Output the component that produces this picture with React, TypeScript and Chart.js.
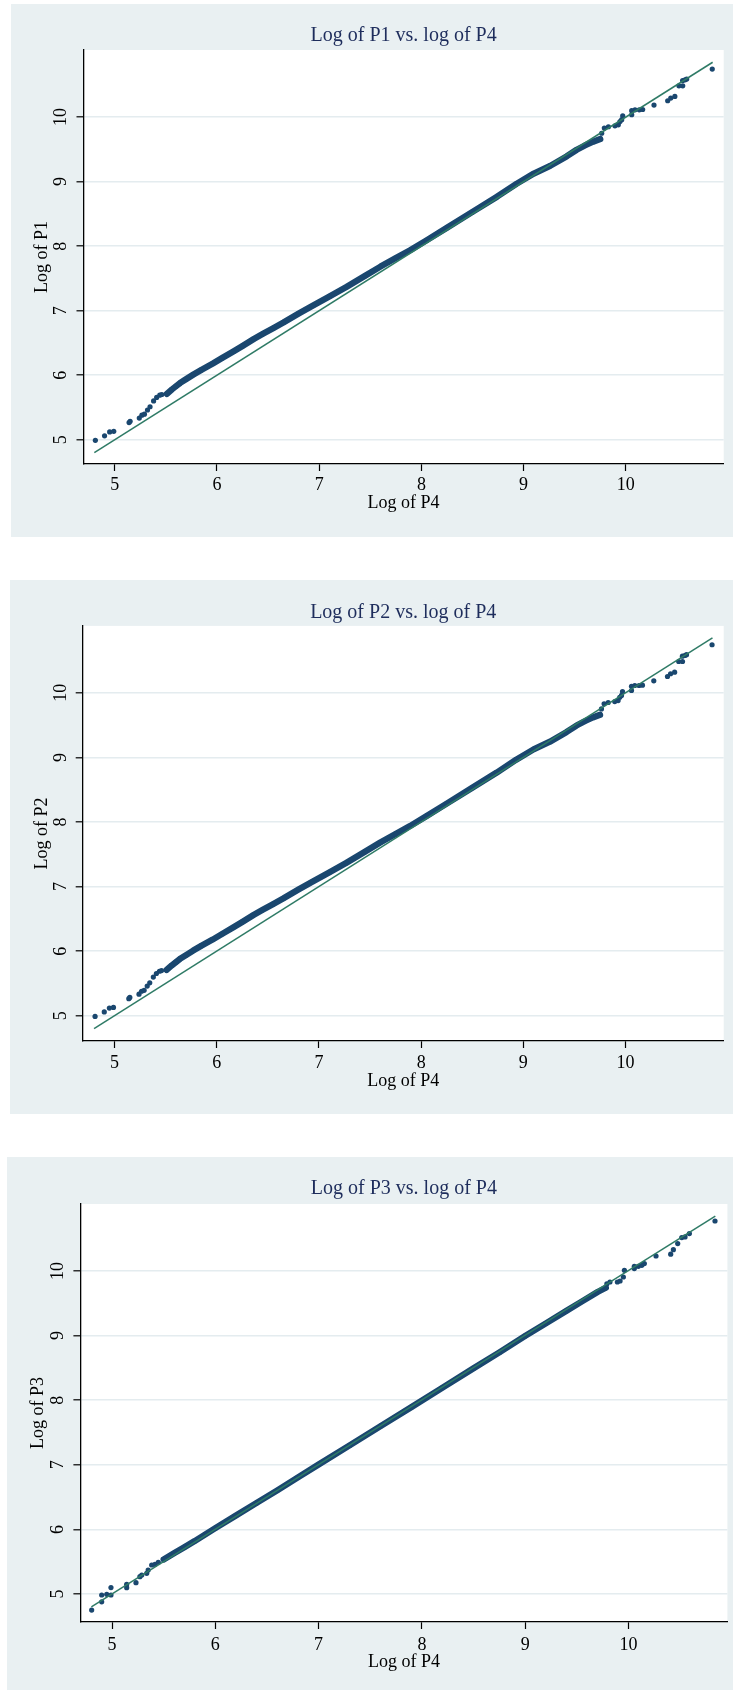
import React, { useEffect, useRef } from "react";
import { Chart, registerables } from "chart.js";

Chart.register(...registerables);

// ---------- shared axis ticks ----------
const xTicks = [5, 6, 7, 8, 9, 10];
const yTicks = [5, 6, 7, 8, 9, 10];

// ---------- panel 1: log P1 vs log P4 ----------
const p1LowX = [4.81, 4.90, 4.95, 4.99, 5.14, 5.15, 5.24, 5.265, 5.29, 5.32, 5.345, 5.38, 5.41, 5.44, 5.46];
const p1LowY = [4.99, 5.06, 5.12, 5.13, 5.265, 5.285, 5.335, 5.38, 5.395, 5.46, 5.51, 5.60, 5.655, 5.69, 5.70];
const p1BandX = [5.51, 5.56, 5.60, 5.64, 5.70, 5.77, 5.85, 5.96, 6.05, 6.16, 6.25, 6.36, 6.45, 6.55, 6.65, 6.80, 6.94, 7.10, 7.27, 7.45, 7.60, 7.75, 7.89, 8.05, 8.25, 8.50, 8.74, 8.93, 9.10, 9.26, 9.42, 9.52, 9.60, 9.68, 9.75];
const p1BandY = [5.71, 5.78, 5.83, 5.88, 5.94, 6.01, 6.085, 6.18, 6.265, 6.367, 6.453, 6.56, 6.64, 6.728, 6.815, 6.955, 7.08, 7.22, 7.37, 7.54, 7.683, 7.815, 7.937, 8.09, 8.285, 8.53, 8.766, 8.965, 9.125, 9.244, 9.39, 9.494, 9.56, 9.618, 9.66];
const p1HighX = [9.764, 9.79, 9.83, 9.894, 9.927, 9.943, 9.96, 9.97, 10.058, 10.058, 10.09, 10.132, 10.165, 10.276, 10.41, 10.44, 10.48, 10.52, 10.557, 10.556, 10.58, 10.596, 10.846];
const p1HighY = [9.75, 9.83, 9.85, 9.865, 9.88, 9.93, 9.96, 10.02, 10.036, 10.10, 10.113, 10.113, 10.118, 10.186, 10.253, 10.295, 10.32, 10.485, 10.485, 10.567, 10.578, 10.59, 10.744];
const p1RefX = [4.80, 10.85];
const p1RefY = [4.80, 10.85];

// ---------- panel 2: log P2 vs log P4 ----------
const p2LowX = [4.81, 4.90, 4.95, 4.99, 5.14, 5.15, 5.24, 5.265, 5.29, 5.32, 5.345, 5.38, 5.41, 5.44, 5.46];
const p2LowY = [4.99, 5.06, 5.12, 5.13, 5.265, 5.285, 5.335, 5.38, 5.395, 5.46, 5.51, 5.60, 5.655, 5.69, 5.70];
const p2BandX = [5.51, 5.56, 5.60, 5.64, 5.70, 5.77, 5.85, 5.96, 6.05, 6.16, 6.25, 6.36, 6.45, 6.55, 6.65, 6.80, 6.94, 7.10, 7.27, 7.45, 7.60, 7.75, 7.89, 8.05, 8.25, 8.50, 8.74, 8.93, 9.10, 9.26, 9.42, 9.52, 9.60, 9.68, 9.75];
const p2BandY = [5.71, 5.78, 5.83, 5.88, 5.94, 6.01, 6.085, 6.18, 6.265, 6.367, 6.453, 6.56, 6.64, 6.728, 6.815, 6.955, 7.08, 7.22, 7.37, 7.54, 7.683, 7.815, 7.937, 8.09, 8.285, 8.53, 8.766, 8.965, 9.125, 9.244, 9.39, 9.494, 9.56, 9.618, 9.66];
const p2HighX = [9.764, 9.79, 9.83, 9.894, 9.927, 9.943, 9.96, 9.97, 10.058, 10.058, 10.09, 10.132, 10.165, 10.276, 10.41, 10.44, 10.48, 10.52, 10.557, 10.556, 10.58, 10.596, 10.846];
const p2HighY = [9.75, 9.83, 9.85, 9.865, 9.88, 9.93, 9.96, 10.02, 10.036, 10.10, 10.113, 10.113, 10.118, 10.186, 10.253, 10.295, 10.32, 10.485, 10.485, 10.567, 10.578, 10.59, 10.744];
const p2RefX = [4.80, 10.85];
const p2RefY = [4.80, 10.85];

// ---------- panel 3: log P3 vs log P4 ----------
const p3LowX = [4.803, 4.90, 4.90, 4.949, 4.99, 4.99, 5.142, 5.142, 5.232, 5.27, 5.288, 5.336, 5.35, 5.384, 5.416, 5.448];
const p3LowY = [4.752, 4.88, 4.985, 4.995, 4.985, 5.10, 5.15, 5.098, 5.175, 5.268, 5.294, 5.32, 5.37, 5.449, 5.46, 5.49];
const p3BandX = [5.50, 5.60, 5.70, 5.80, 5.90, 6.00, 6.20, 6.40, 6.60, 6.80, 7.00, 7.30, 7.60, 7.90, 8.20, 8.50, 8.75, 9.00, 9.20, 9.40, 9.55, 9.70, 9.78];
const p3BandY = [5.535, 5.63, 5.725, 5.82, 5.92, 6.02, 6.215, 6.41, 6.605, 6.805, 7.005, 7.30, 7.60, 7.895, 8.195, 8.495, 8.74, 8.995, 9.19, 9.385, 9.53, 9.675, 9.74];
const p3HighX = [9.79, 9.82, 9.892, 9.918, 9.95, 9.96, 10.056, 10.056, 10.095, 10.128, 10.153, 10.266, 10.408, 10.434, 10.476, 10.515, 10.547, 10.589, 10.837];
const p3HighY = [9.80, 9.83, 9.83, 9.845, 9.907, 10.01, 10.037, 10.073, 10.073, 10.088, 10.115, 10.232, 10.26, 10.33, 10.424, 10.517, 10.527, 10.579, 10.774];
const p3RefX = [4.80, 10.84];
const p3RefY = [4.80, 10.85];

// ---------- styles ----------
const NAVY = "#1a476f";
const GREEN = "#2f7b66";
const BG = "#e9f0f2";
const GRID = "#e4ecef";
const TITLE_COLOR = "#1e2d5c";
const FONT = "'Liberation Serif', 'Times New Roman', serif";

type PanelSpec = {
  title: string;
  yTitle: string;
  xTitle: string;
  lowX: number[]; lowY: number[];
  bandX: number[]; bandY: number[];
  highX: number[]; highY: number[];
  refX: number[]; refY: number[];
  box: { left: number; top: number; width: number; height: number };
  area: { left: number; top: number; right: number; bottom: number };
  xRange: [number, number];
  yRange: [number, number];
  titleY: number; xTickY: number; xTitleY: number; yTickX: number; yTitleX: number;
};

const PANELS: PanelSpec[] = [
  {
    title: "Log of P1 vs. log of P4", yTitle: "Log of P1", xTitle: "Log of P4",
    lowX: p1LowX, lowY: p1LowY, bandX: p1BandX, bandY: p1BandY, highX: p1HighX, highY: p1HighY,
    refX: p1RefX, refY: p1RefY,
    box: { left: 11, top: 4, width: 722, height: 533 },
    area: { left: 83.5, top: 50, right: 723.7, bottom: 464 },
    xRange: [4.694, 10.958], yRange: [4.623, 11.04],
    titleY: 35.7, xTickY: 485.7, xTitleY: 503.6, yTickX: 61.7, yTitleX: 42,
  },
  {
    title: "Log of P2 vs. log of P4", yTitle: "Log of P2", xTitle: "Log of P4",
    lowX: p2LowX, lowY: p2LowY, bandX: p2BandX, bandY: p2BandY, highX: p2HighX, highY: p2HighY,
    refX: p2RefX, refY: p2RefY,
    box: { left: 10, top: 580, width: 723, height: 534 },
    area: { left: 82.7, top: 625.9, right: 723.7, bottom: 1041 },
    xRange: [4.689, 10.96], yRange: [4.61, 11.036],
    titleY: 612.9, xTickY: 1063, xTitleY: 1081.6, yTickX: 60.8, yTitleX: 42,
  },
  {
    title: "Log of P3 vs. log of P4", yTitle: "Log of P3", xTitle: "Log of P4",
    lowX: p3LowX, lowY: p3LowY, bandX: p3BandX, bandY: p3BandY, highX: p3HighX, highY: p3HighY,
    refX: p3RefX, refY: p3RefY,
    box: { left: 7, top: 1157, width: 726, height: 533 },
    area: { left: 80.4, top: 1204, right: 727.4, bottom: 1622 },
    xRange: [4.694, 10.957], yRange: [4.567, 11.037],
    titleY: 1189, xTickY: 1645, xTitleY: 1662, yTickX: 58.4, yTitleX: 38.3,
  },
];

const toPts = (xs: number[], ys: number[]) => xs.map((x, i) => ({ x, y: ys[i] }));

const plotBg = {
  id: "plotBg",
  beforeDraw(chart: any) {
    const { ctx, chartArea: a } = chart;
    ctx.save();
    ctx.fillStyle = "#ffffff";
    ctx.fillRect(a.left, a.top, a.right - a.left, a.bottom - a.top);
    ctx.restore();
  },
};

function Panel({ spec }: { spec: PanelSpec }) {
  const ref = useRef<HTMLCanvasElement | null>(null);
  useEffect(() => {
    if (!ref.current) return;
    const { box, area } = spec;
    const W = box.width, H = box.height;
    const caL = area.left - box.left;
    const caT = area.top - box.top;
    const caR = area.right - box.left;
    const caB = area.bottom - box.top;
    const titleLH = 24;
    const tPadTop = spec.titleY - box.top - titleLH / 2;
    const tPadBottom = caT - tPadTop - titleLH;
    const xTickPad = spec.xTickY - area.bottom - 7 - 10.8;
    const xTitlePadBottom = box.top + H - spec.xTitleY - 10.8;
    const yTickPad = area.left - spec.yTickX - 7 - 9;
    const yTitlePadTop = spec.yTitleX - box.left - 10.8;
    const font18 = { family: FONT, size: 18, weight: "normal" as const, lineHeight: 1.2 };

    const chart = new Chart(ref.current, {
      type: "scatter",
      data: {
        datasets: [
          {
            data: toPts(spec.refX, spec.refY),
            showLine: true,
            borderColor: GREEN,
            borderWidth: 1.5,
            pointRadius: 0,
          },
          {
            data: toPts(spec.bandX, spec.bandY),
            showLine: true,
            borderColor: NAVY,
            borderWidth: 6.3,
            borderCapStyle: "round",
            borderJoinStyle: "round",
            pointRadius: 2.6,
            pointBackgroundColor: NAVY,
            pointBorderWidth: 0,
          },
          {
            data: toPts(spec.lowX, spec.lowY),
            pointRadius: 2.6,
            pointBackgroundColor: NAVY,
            pointBorderWidth: 0,
          },
          {
            data: toPts(spec.highX, spec.highY),
            pointRadius: 2.6,
            pointBackgroundColor: NAVY,
            pointBorderWidth: 0,
          },
        ] as any,
      },
      options: {
        animation: false,
        responsive: false,
        devicePixelRatio: 1,
        layout: { padding: { left: 0, top: 0, right: W - caR, bottom: 0 } },
        plugins: {
          legend: { display: false },
          tooltip: { enabled: false },
          title: {
            display: true,
            text: spec.title,
            fullSize: false,
            color: TITLE_COLOR,
            font: { family: FONT, size: 20, weight: "normal", lineHeight: 1.2 },
            padding: { top: tPadTop, bottom: tPadBottom },
          },
        },
        scales: {
          x: {
            type: "linear",
            position: "bottom",
            min: spec.xRange[0],
            max: spec.xRange[1],
            afterBuildTicks: (s: any) => { s.ticks = xTicks.map((v) => ({ value: v })); },
            afterFit: (s: any) => { s.height = H - caB; },
            grid: { drawOnChartArea: false, drawTicks: true, tickLength: 7, tickColor: "#000", tickWidth: 1.2 },
            border: { color: "#000", width: 1.3 },
            ticks: { color: "#000", font: font18, padding: xTickPad, minRotation: 0, maxRotation: 0, autoSkip: false },
            title: { display: true, text: spec.xTitle, color: "#000", font: font18, padding: { top: 0, bottom: xTitlePadBottom } },
          },
          y: {
            type: "linear",
            position: "left",
            min: spec.yRange[0],
            max: spec.yRange[1],
            afterBuildTicks: (s: any) => { s.ticks = yTicks.map((v) => ({ value: v })); },
            afterFit: (s: any) => { s.width = caL; },
            grid: { color: GRID, lineWidth: 1.6, drawTicks: true, tickLength: 7, tickColor: "#000", tickWidth: 1.2 },
            border: { color: "#000", width: 1.3 },
            ticks: { color: "#000", font: font18, padding: yTickPad, minRotation: 90, maxRotation: 90, crossAlign: "center", autoSkip: false },
            title: { display: true, text: spec.yTitle, color: "#000", font: font18, padding: { top: yTitlePadTop, bottom: 0 } },
          },
        },
      } as any,
      plugins: [plotBg],
    });
    return () => chart.destroy();
  }, [spec]);

  const { box } = spec;
  return (
    <div
      style={{
        position: "absolute",
        left: box.left,
        top: box.top,
        width: box.width,
        height: box.height,
        background: BG,
      }}
    >
      <canvas ref={ref} width={box.width} height={box.height} style={{ display: "block", width: box.width, height: box.height }} />
    </div>
  );
}

export default function App() {
  return (
    <div>
      {PANELS.map((p, i) => (
        <Panel key={i} spec={p} />
      ))}
    </div>
  );
}
